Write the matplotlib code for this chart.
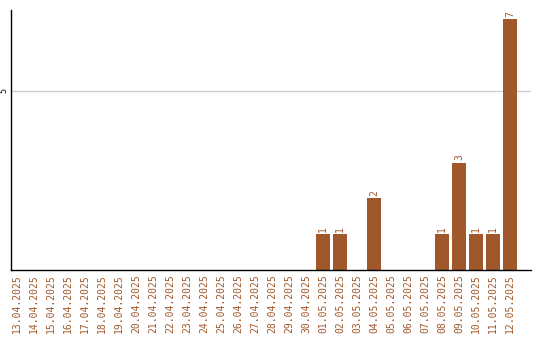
import matplotlib
matplotlib.use("Agg")
import matplotlib.pyplot as plt

dates = ["13.04.2025", "14.04.2025", "15.04.2025", "16.04.2025", "17.04.2025",
         "18.04.2025", "19.04.2025", "20.04.2025", "21.04.2025", "22.04.2025",
         "23.04.2025", "24.04.2025", "25.04.2025", "26.04.2025", "27.04.2025",
         "28.04.2025", "29.04.2025", "30.04.2025", "01.05.2025", "02.05.2025",
         "03.05.2025", "04.05.2025", "05.05.2025", "06.05.2025", "07.05.2025",
         "08.05.2025", "09.05.2025", "10.05.2025", "11.05.2025", "12.05.2025"]
counts = [0, 0, 0, 0, 0, 0, 0, 0, 0, 0,
          0, 0, 0, 0, 0, 0, 0, 0, 1, 1,
          0, 2, 0, 0, 0, 1, 3, 1, 1, 7]
y_ticks = [5]

bar_color = "#a0582a"
font = "DejaVu Sans Mono"

fig = plt.figure(figsize=(5.4, 3.4), dpi=100)
ax = fig.add_axes([11 / 540, 70 / 340, 520 / 540, 260 / 340])

x = list(range(len(dates)))
ax.bar(x, counts, width=0.82, color=bar_color, zorder=3)

for xi, v in zip(x, counts):
    if v > 0:
        ax.text(xi, v + 0.06, str(v), rotation=90, ha="center", va="bottom",
                color=bar_color, fontsize=7, family=font)

ax.set_xlim(-0.35, 30.24)
ax.set_ylim(0, 7.26)

ax.set_xticks(x)
ax.set_xticklabels(dates, rotation=90, color=bar_color, fontsize=7, family=font)
ax.set_yticks(y_ticks)
ax.set_yticklabels([str(t) for t in y_ticks], rotation=90, va="center",
                   fontsize=6, family=font)
ax.tick_params(axis="both", length=0, pad=3)
ax.tick_params(axis="y", pad=2)

ax.grid(axis="y", color="#cccccc", linewidth=0.9, zorder=0)
for side in ("top", "right"):
    ax.spines[side].set_visible(False)
for side in ("left", "bottom"):
    ax.spines[side].set_color("black")
    ax.spines[side].set_linewidth(1.0)
ax.spines["bottom"].set_zorder(4)

fig.savefig("out.png", dpi=100)
